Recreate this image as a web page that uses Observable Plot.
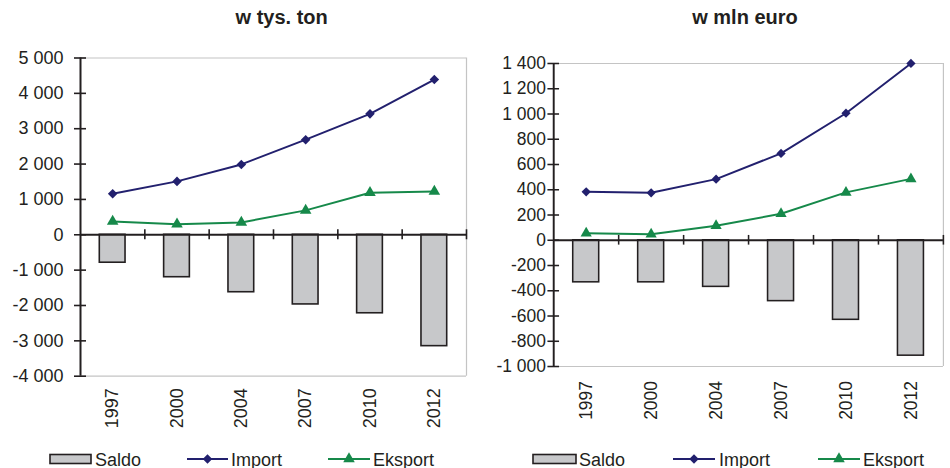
<!DOCTYPE html>
<html><head><meta charset="utf-8">
<script src="https://cdn.jsdelivr.net/npm/d3@7"></script>
<script src="https://cdn.jsdelivr.net/npm/@observablehq/plot@0.6"></script>
<style>
body{margin:0;background:#fff;font-family:"Liberation Sans",Arial,sans-serif;}
#wrap{position:relative;width:950px;height:468px;overflow:hidden;background:#fff;}
.panel{position:absolute;top:0;}
.title{position:absolute;top:6px;font-weight:bold;font-size:20px;color:#231f20;transform:translateX(-50%);white-space:nowrap;}
#legend{position:absolute;left:0;top:0;}
</style></head><body><div id="wrap"></div>
<script>
const years = ["1997", "2000", "2004", "2007", "2010", "2012"];
const saldoTon = [-790, -1200, -1625, -1970, -2220, -3150];
const importTon = [1160, 1510, 1990, 2690, 3420, 4390];
const eksportTon = [375, 300, 350, 690, 1190, 1225];
const saldoEur = [-333, -333, -369, -482, -630, -914];
const importEur = [384, 376, 484, 688, 1006, 1400];
const eksportEur = [56, 48, 115, 210, 379, 486];
const ticksTon = [-4000, -3000, -2000, -1000, 0, 1000, 2000, 3000, 4000, 5000];
const ticksEur = [-1000, -800, -600, -400, -200, 0, 200, 400, 600, 800, 1000, 1200, 1400];
const titles = ["w tys. ton", "w mln euro"];
const seriesNames = ["Saldo", "Import", "Eksport"];

const INK = "#231f20", NAVY = "#22206e", GREEN = "#16894a", BARFILL = "#c7c8ca", FRAME = "#c4c4c4";
const BAR_W = 0.4;
const FS = 18;
const fmt = d => (d < 0 ? "-" : "") + d3.format(",")(Math.abs(d)).replace(/,/g, "\u00a0");

function panel(o) {
  const rows = years.map((y, i) => ({x: i + 0.5, year: y, saldo: o.saldo[i], imp: o.imp[i], eks: o.eks[i]}));
  const bounds = d3.range(1, years.length + 1);
  const dom = [o.ticks[0], o.ticks[o.ticks.length - 1]];
  return Plot.plot({
    width: o.width, height: 450,
    marginLeft: o.ml, marginRight: o.mr, marginTop: o.mt, marginBottom: o.mb,
    x: {type: "linear", domain: [0, years.length], axis: null},
    y: {domain: dom, axis: null},
    style: {fontFamily: "'Liberation Sans', Arial, sans-serif", fontSize: FS + "px", color: INK, background: "transparent", overflow: "visible"},
    marks: [
      Plot.ruleY(dom, {stroke: FRAME, strokeWidth: 1.2}),
      Plot.ruleX([years.length], {stroke: FRAME, strokeWidth: 1.2}),
      Plot.rect(rows, {x1: d => d.x - BAR_W / 2, x2: d => d.x + BAR_W / 2, y1: 0, y2: "saldo", fill: BARFILL, stroke: INK, strokeWidth: 1.6}),
      Plot.ruleY([0], {stroke: INK, strokeWidth: 2}),
      Plot.ruleX(bounds, {y1: 0, y2: 0, insetTop: -5, insetBottom: -5, stroke: INK, strokeWidth: 1.6}),
      Plot.ruleX([0], {stroke: INK, strokeWidth: 2}),
      Plot.ruleY(o.ticks, {x1: 0, x2: 0, insetLeft: -6, insetRight: -6, stroke: INK, strokeWidth: 1.6}),
      Plot.line(rows, {x: "x", y: "imp", stroke: NAVY, strokeWidth: 2}),
      Plot.dot(rows, {x: "x", y: "imp", symbol: "diamond2", r: 4.3, fill: NAVY, stroke: null}),
      Plot.line(rows, {x: "x", y: "eks", stroke: GREEN, strokeWidth: 2}),
      Plot.dot(rows, {x: "x", y: "eks", symbol: "triangle", r: 4.3, fill: GREEN, stroke: null}),
      Plot.axisY({ticks: o.ticks, tickSize: 0, tickPadding: o.yPad, tickFormat: fmt, fill: INK, fontSize: FS, label: null}),
      Plot.axisX({ticks: rows.map(d => d.x), tickSize: 0, tickPadding: o.xPad, tickRotate: -90, tickFormat: v => years[Math.round(v - 0.5)], fill: INK, fontSize: FS, label: null})
    ]
  });
}

const wrap = document.getElementById("wrap");
const cfgs = [
  {left: 0, width: 475, ml: 80, mr: 9, mt: 57.5, mb: 74.3, saldo: saldoTon, imp: importTon, eks: eksportTon, ticks: ticksTon, yPad: 17, xPad: 12, title: titles[0], tx: 281.7},
  {left: 475, width: 490, ml: 80.7, mr: 7.3, mt: 65, mb: 72.4, saldo: saldoEur, imp: importEur, eks: eksportEur, ticks: ticksEur, yPad: 8, xPad: 15, title: titles[1], tx: 745}
];
for (const c of cfgs) {
  const d = document.createElement("div");
  d.className = "panel"; d.style.left = c.left + "px";
  d.appendChild(panel(c));
  wrap.appendChild(d);
  const t = document.createElement("div");
  t.className = "title"; t.style.left = c.tx + "px"; t.textContent = c.title;
  wrap.appendChild(t);
}

// legends
const ns = "http://www.w3.org/2000/svg";
const lg = document.createElementNS(ns, "svg");
lg.setAttribute("id", "legend"); lg.setAttribute("width", 950); lg.setAttribute("height", 468);
function el(name, attrs, text) {
  const e = document.createElementNS(ns, name);
  for (const k in attrs) e.setAttribute(k, attrs[k]);
  if (text) e.textContent = text;
  lg.appendChild(e); return e;
}
const legPos = [
  {sw: [50, 91], st: 95, im: [187, 228], it: 231, ek: [328, 370], et: 373},
  {sw: [533, 576], st: 579, im: [673, 715], it: 719, ek: [818, 860], et: 863}
];
const LY = 459;
for (const p of legPos) {
  el("rect", {x: p.sw[0], y: LY - 4.5, width: p.sw[1] - p.sw[0], height: 9, fill: BARFILL, stroke: INK, "stroke-width": 1.6});
  el("line", {x1: p.im[0], x2: p.im[1], y1: LY, y2: LY, stroke: NAVY, "stroke-width": 2});
  el("path", {d: d3.symbol(d3.symbolDiamond2, Math.PI * 4.3 * 4.3)(), transform: `translate(${(p.im[0] + p.im[1]) / 2},${LY})`, fill: NAVY});
  el("line", {x1: p.ek[0], x2: p.ek[1], y1: LY, y2: LY, stroke: GREEN, "stroke-width": 2});
  el("path", {d: d3.symbol(d3.symbolTriangle, Math.PI * 4.3 * 4.3)(), transform: `translate(${(p.ek[0] + p.ek[1]) / 2},${LY})`, fill: GREEN});
  const ts = {"font-family": "'Liberation Sans', Arial, sans-serif", "font-size": FS, fill: INK, y: 465.5};
  el("text", {...ts, x: p.st}, seriesNames[0]);
  el("text", {...ts, x: p.it}, seriesNames[1]);
  el("text", {...ts, x: p.et}, seriesNames[2]);
}
wrap.appendChild(lg);
</script>
</body></html>
